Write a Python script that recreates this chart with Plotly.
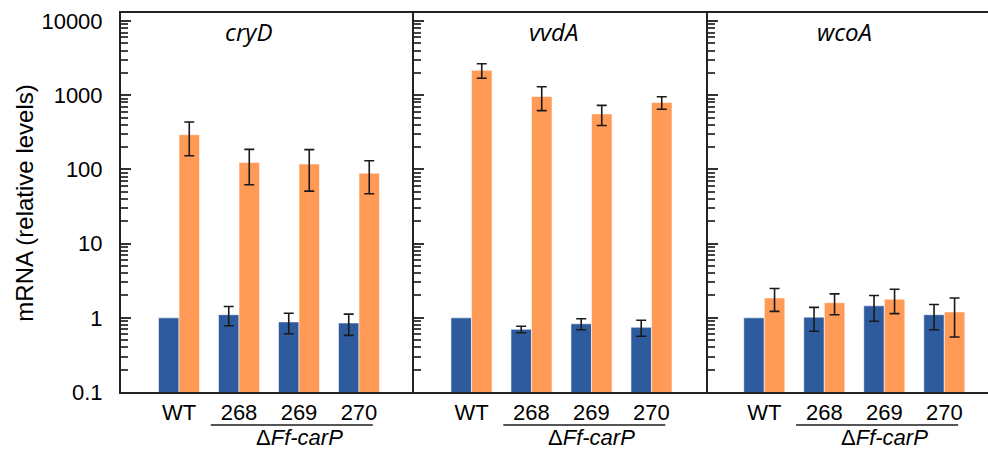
import plotly.graph_objects as go

# Strains on the x axis of every panel
strains = ["WT", "268", "269", "270"]
genes = ["cryD", "vvdA", "wcoA"]

# Relative mRNA levels (dark = blue series, light = orange series) with SD
dark_vals = {
    "cryD": [1.0, 1.10, 0.88, 0.85],
    "vvdA": [1.0, 0.70, 0.83, 0.745],
    "wcoA": [1.0, 1.02, 1.45, 1.10],
}
dark_err = {
    "cryD": [None, 0.32, 0.27, 0.27],
    "vvdA": [None, 0.07, 0.14, 0.18],
    "wcoA": [None, 0.36, 0.55, 0.41],
}
light_vals = {
    "cryD": [294, 124, 118, 89],
    "vvdA": [2170, 960, 560, 800],
    "wcoA": [1.85, 1.60, 1.78, 1.20],
}
light_err = {
    "cryD": [141, 62, 67, 42],
    "vvdA": [480, 340, 170, 153],
    "wcoA": [0.63, 0.50, 0.64, 0.65],
}

y_tick_vals = [0.1, 1, 10, 100, 1000, 10000]
y_tick_text = ["0.1", "1", "10", "100", "1000", "10000"]
minor_vals = [m * 10 ** e for e in range(-1, 4) for m in range(2, 10)]

BLUE = "#2E5B9E"
ORANGE = "#FF9B56"
FONT = "Liberation Sans"
EDGE = dict(color="rgba(255,255,255,0.55)", width=1)

W, H = 988, 450
left, right, top, bottom = 121, 0, 13, 58
pw = W - left - right
# panel edges in px (relative to plot area left)
edges = [0, 293, 587, pw]
domains = [[edges[i] / pw, edges[i + 1] / pw] for i in range(3)]
xranges = [[-0.967, 3.917], [-0.958, 3.942], [-0.938, 3.728]]
title_x = [1.15, 1.36, 1.33]

fig = go.Figure()
xpos = list(range(len(strains)))


def add_bars(xs, ys, errs, offset, color, sfx):
    """Add one bar series; points without an SD get no error bar."""
    with_err = [k for k, e in enumerate(errs) if e is not None]
    without = [k for k, e in enumerate(errs) if e is None]
    if without:
        fig.add_trace(go.Bar(
            x=[xs[k] for k in without], y=[ys[k] for k in without],
            offset=offset, width=0.342,
            marker=dict(color=color, line=EDGE),
            xaxis="x" + sfx, yaxis="y" + sfx, showlegend=False,
        ))
    if with_err:
        fig.add_trace(go.Bar(
            x=[xs[k] for k in with_err], y=[ys[k] for k in with_err],
            offset=offset, width=0.342,
            marker=dict(color=color, line=EDGE),
            error_y=dict(type="data", array=[errs[k] for k in with_err],
                         visible=True, color="#1a1a1a", thickness=1.6, width=5),
            xaxis="x" + sfx, yaxis="y" + sfx, showlegend=False,
        ))


for i, g in enumerate(genes):
    sfx = "" if i == 0 else str(i + 1)
    add_bars(xpos, dark_vals[g], dark_err[g], -0.342, BLUE, sfx)
    add_bars(xpos, light_vals[g], light_err[g], 0, ORANGE, sfx)

layout = dict(
    width=W, height=H,
    margin=dict(l=left, r=right, t=top, b=bottom, pad=0),
    paper_bgcolor="white", plot_bgcolor="white",
    font=dict(family=FONT, color="black", size=22),
    barmode="overlay",
)

for i in range(3):
    sfx = "" if i == 0 else str(i + 1)
    layout["xaxis" + sfx] = dict(
        domain=domains[i], range=xranges[i], anchor="y" + sfx,
        showline=True, linecolor="#222", linewidth=2, mirror=True,
        ticks="", tickvals=xpos, ticktext=strains,
        tickfont=dict(family=FONT, size=22, color="black"),
        showgrid=False, zeroline=False, fixedrange=True,
    )
    layout["yaxis" + sfx] = dict(
        type="log", range=[-1, 4.108], anchor="x" + sfx,
        showline=True, linecolor="#222", linewidth=2,
        ticks="inside", ticklen=10, tickwidth=2, tickcolor="#333",
        tickvals=y_tick_vals, ticktext=y_tick_text,
        showticklabels=(i == 0), ticklabelstandoff=12,
        tickfont=dict(family=FONT, size=22, color="black"),
        minor=dict(ticks="inside", ticklen=7, tickwidth=1.6, tickcolor="#444",
                   tickvals=minor_vals, showgrid=False),
        showgrid=False, zeroline=False, fixedrange=True,
    )

annotations = []
shapes = []
for i, g in enumerate(genes):
    sfx = "" if i == 0 else str(i + 1)
    annotations.append(dict(
        text="<i>%s</i>" % g, x=title_x[i], y=0.95, xref="x" + sfx, yref="paper",
        showarrow=False, xanchor="center", yanchor="middle",
        font=dict(family="Open Sans", size=24, color="black"),
    ))
    annotations.append(dict(
        text="Δ<i>Ff-carP</i>", x=2.0, y=-0.119, xref="x" + sfx, yref="paper",
        showarrow=False, xanchor="center", yanchor="middle",
        font=dict(family=FONT, size=22, color="black"),
    ))
    shapes.append(dict(
        type="line", xref="x" + sfx, yref="paper", x0=0.53, x1=3.23,
        y0=-0.0873, y1=-0.0873, line=dict(color="#555", width=2),
    ))

annotations.append(dict(
    text="mRNA (relative levels)", x=-0.1107, y=0.497, xref="paper", yref="paper",
    textangle=-90, showarrow=False, xanchor="center", yanchor="middle",
    font=dict(family=FONT, size=24, color="black"),
))

layout["annotations"] = annotations
layout["shapes"] = shapes
fig.update_layout(**layout)

fig.write_html("out.html")
